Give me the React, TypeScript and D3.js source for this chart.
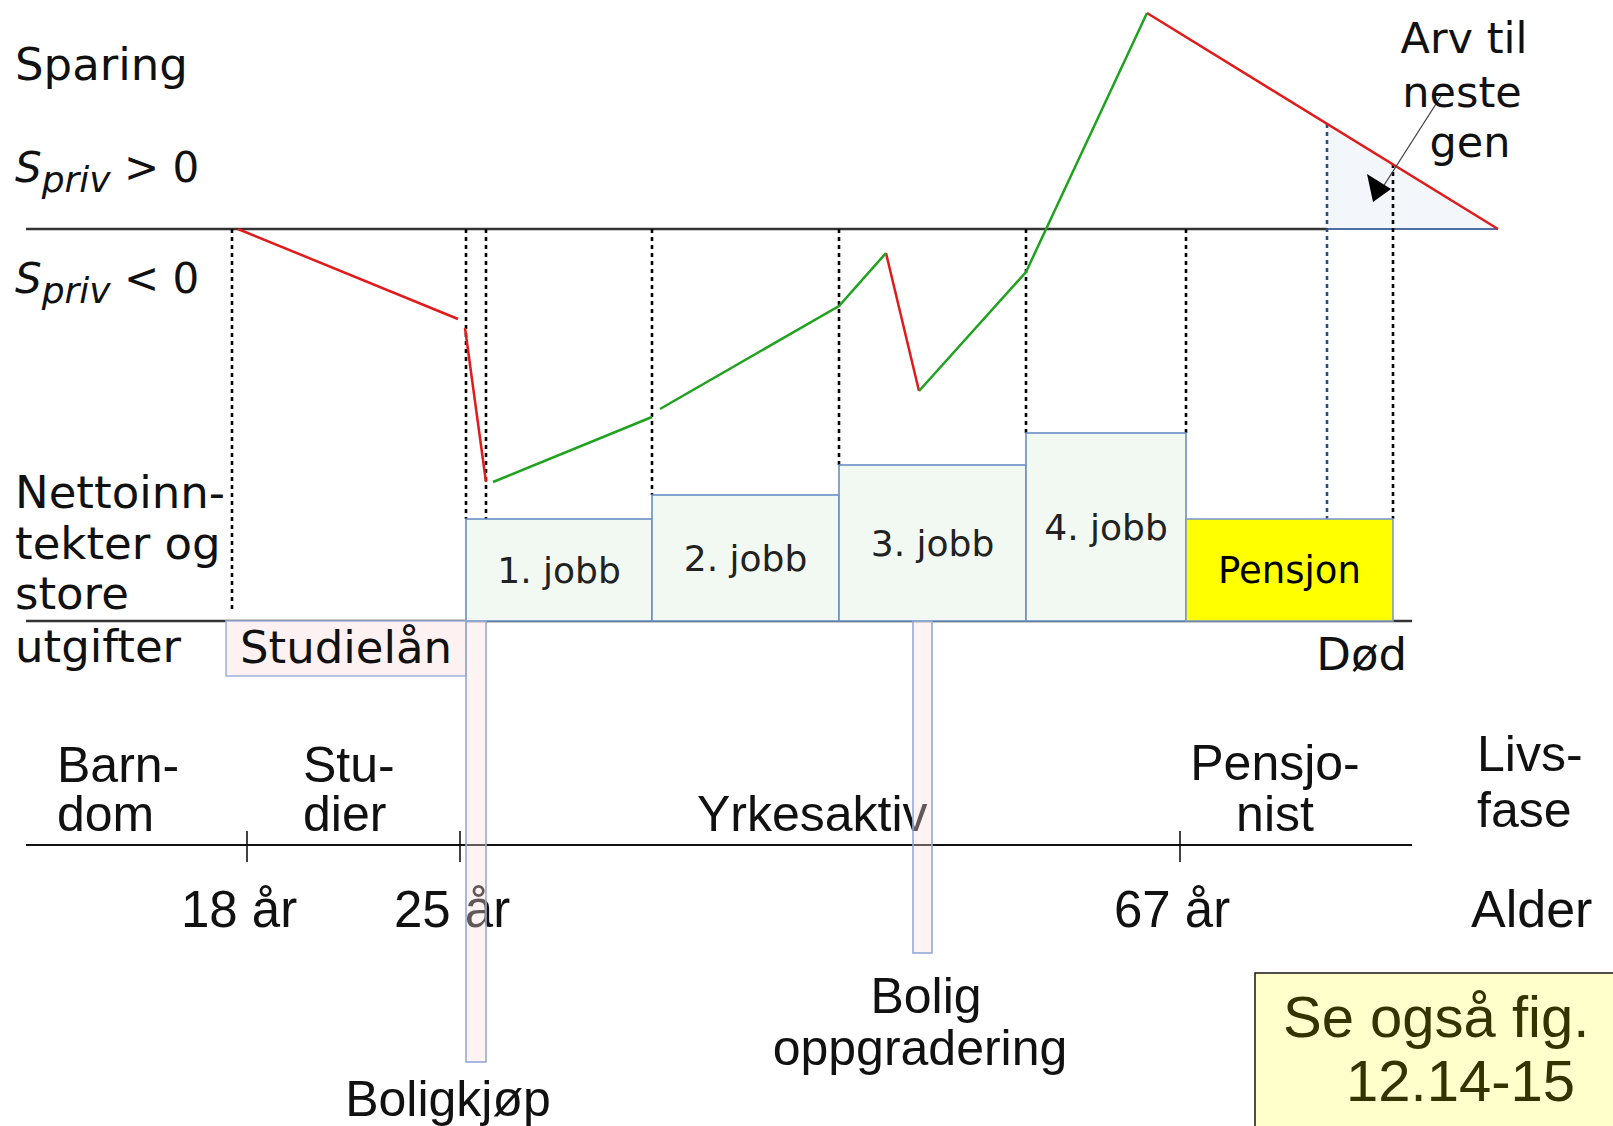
import React from 'react';
import * as d3 from 'd3';

const W = 1613;
const H = 1126;

// savings curve, [position in life, private savings]
const redPieces: number[][][] = [
  [[23.8, 0], [45.8, -9.0]],
  [[46.5, -9.9], [48.6, -25.3]],
  [[88.6, -2.4], [91.9, -16.2]],
  [[114.7, 21.6], [149.8, 0]],
];
const greenPieces: number[][][] = [
  [[49.3, -25.3], [65.2, -18.8]],
  [[66.0, -18.0], [83.9, -7.7], [88.6, -2.4]],
  [[91.9, -16.2], [102.6, -4.3], [114.7, 21.6]],
];

// income blocks
const jobs = ['1. jobb', '2. jobb', '3. jobb', '4. jobb', 'Pensjon'];
const jobStart = [46.6, 65.2, 83.9, 102.6, 118.6];
const jobEnd = [65.2, 83.9, 102.6, 118.6, 139.3];
const jobIncome = [10.2, 12.6, 15.6, 18.8, 10.2];

// big expenses
const expenses = ['Studielån', 'Boligkjøp', 'Bolig oppgradering'];
const expStart = [22.6, 46.6, 91.3];
const expEnd = [46.6, 48.6, 93.2];
const expAmount = [-5.5, -44.1, -33.2];

// inheritance triangle
const inheritance: number[][] = [[132.7, 10.5], [132.7, 0], [149.8, 0]];

// dotted guides: position, savings top, income bottom
const guidePos = [23.2, 46.6, 48.6, 65.2, 83.9, 102.6, 118.6, 132.7, 139.3];
const guideTop = [0, 0, 0, 0, 0, 0, 0, 10.5, 6.5];
const guideBottom = [0, 10.2, 10.2, 12.6, 15.6, 18.8, 18.8, 10.2, 10.2];

const ageLabels = ['18 år', '25 år', '67 år'];
const agePos = [24.7, 46.0, 118.0];

const x = d3.scaleLinear().domain([0, 160]).range([0, 1600]);
const yS = d3.scaleLinear().domain([0, 10]).range([229, 129]);
const yI = d3.scaleLinear().domain([0, 10]).range([621, 521]);

const line = d3
  .line<number[]>()
  .x((d) => x(d[0]))
  .y((d) => yS(d[1]));

const TOP = 'DejaVu Sans, sans-serif';
const BOT = 'Liberation Sans, Arial, sans-serif';

export default function App() {
  const axisY = 845;
  return (
    <svg
      width={W}
      height={H}
      style={{ position: 'absolute', left: 0, top: 0, background: '#fff' }}
    >
      {/* inheritance triangle */}
      <path d={line(inheritance) + 'Z'} fill="#f3f6fb" stroke="none" />
      <line x1={x(132.7)} x2={x(149.8)} y1={yS(0)} y2={yS(0)} stroke="#4f6fa3" strokeWidth={2} />

      {/* zero savings line */}
      <line x1={x(2.6)} x2={x(132.7)} y1={yS(0)} y2={yS(0)} stroke="#333" strokeWidth={2.4} />
      {/* income baseline */}
      <line x1={x(2.6)} x2={x(141.2)} y1={yI(0)} y2={yI(0)} stroke="#333" strokeWidth={2.4} />

      {/* dotted guides */}
      {guidePos.map((p, i) => (
        <line
          key={'g' + i}
          x1={x(p)}
          x2={x(p)}
          y1={yS(guideTop[i])}
          y2={guideBottom[i] === 0 ? yI(0) - 8 : yI(guideBottom[i])}
          stroke={i === 7 ? '#2d4a7a' : '#000'}
          strokeWidth={2.6}
          strokeDasharray="4,4"
        />
      ))}

      {/* savings curve */}
      {redPieces.map((p, i) => (
        <path key={'r' + i} d={line(p) || ''} fill="none" stroke="#e01b1b" strokeWidth={2.5} />
      ))}
      {greenPieces.map((p, i) => (
        <path key={'gr' + i} d={line(p) || ''} fill="none" stroke="#1fa31f" strokeWidth={2.5} />
      ))}

      {/* arrow to inheritance */}
      <line x1={1443} y1={93} x2={1381} y2={190} stroke="#444" strokeWidth={1.3} />
      <polygon points="1373,202 1367,174 1391,189" fill="#000" />

      {/* income boxes */}
      {jobs.map((j, i) => {
        const x0 = x(jobStart[i]);
        const x1 = x(jobEnd[i]);
        const y0 = yI(jobIncome[i]);
        const y1 = yI(0);
        return (
          <g key={'j' + i}>
            <rect
              x={x0}
              y={y0}
              width={x1 - x0}
              height={y1 - y0}
              fill={j === 'Pensjon' ? '#ffff00' : '#f2f9f2'}
              stroke={j === 'Pensjon' ? '#7d9bc9' : '#6a8ec6'}
              strokeWidth={1.6}
            />
            <text
              x={(x0 + x1) / 2}
              y={(y0 + y1) / 2 + 13}
              textAnchor="middle"
              fontFamily={TOP}
              fontSize={j === 'Pensjon' ? 37 : 36}
              fill={j === 'Pensjon' ? '#000' : '#222'}
            >
              {j}
            </text>
          </g>
        );
      })}

      {/* Studielån */}
      <rect
        x={x(expStart[0])}
        y={yI(0)}
        width={x(expEnd[0]) - x(expStart[0])}
        height={yI(expAmount[0]) - yI(0)}
        fill="#fdf1f1"
        stroke="#a3b6dc"
        strokeWidth={1.6}
      />
      <text x={(x(expStart[0]) + x(expEnd[0])) / 2} y={663} textAnchor="middle" fontFamily={TOP} fontSize={45} fill="#111">
        {expenses[0]}
      </text>

      {/* left labels */}
      <g fontFamily={TOP} fontSize={45} fill="#111">
        <text x={15} y={80}>Sparing</text>
        <text x={15} y={182}>
          <tspan fontStyle="italic" fontSize={42}>S</tspan>
          <tspan fontStyle="italic" fontSize={36} dy={10}>priv</tspan>
          <tspan fontSize={42} dy={-10}> &gt; 0</tspan>
        </text>
        <text x={15} y={293}>
          <tspan fontStyle="italic" fontSize={42}>S</tspan>
          <tspan fontStyle="italic" fontSize={36} dy={10}>priv</tspan>
          <tspan fontSize={42} dy={-10}> &lt; 0</tspan>
        </text>
        <text x={15} y={508}>Nettoinn-</text>
        <text x={15} y={559}>tekter og</text>
        <text x={15} y={609}>store</text>
        <text x={15} y={662}>utgifter</text>
        <text x={1407} y={670} textAnchor="end">Død</text>
      </g>
      <g fontFamily={TOP} fontSize={43} fill="#111" textAnchor="middle">
        <text x={1464} y={53}>Arv til</text>
        <text x={1462} y={107}>neste</text>
        <text x={1470} y={157}>gen</text>
      </g>

      {/* life phase axis */}
      <line x1={x(2.6)} x2={x(141.2)} y1={axisY} y2={axisY} stroke="#111" strokeWidth={2.2} />
      {agePos.map((a, i) => (
        <g key={'a' + i}>
          <line x1={x(a)} x2={x(a)} y1={axisY - 14} y2={axisY + 17} stroke="#111" strokeWidth={1.6} />
          <text x={x(a) - 8} y={927} textAnchor="middle" fontFamily={BOT} fontSize={51} fill="#111">
            {ageLabels[i]}
          </text>
        </g>
      ))}
      <g fontFamily={BOT} fontSize={50} fill="#111">
        <text x={57} y={782}>Barn-</text>
        <text x={57} y={831}>dom</text>
        <text x={303} y={782}>Stu-</text>
        <text x={303} y={831}>dier</text>
        <text x={697} y={831}>Yrkesaktiv</text>
        <text x={1275} y={780} textAnchor="middle">Pensjo-</text>
        <text x={1275} y={831} textAnchor="middle">nist</text>
        <text x={1477} y={771}>Livs-</text>
        <text x={1477} y={827}>fase</text>
        <text x={1471} y={927} fontSize={52}>Alder</text>
        <text x={448} y={1116} textAnchor="middle">{expenses[1]}</text>
        <text x={926} y={1013} textAnchor="middle">Bolig</text>
        <text x={920} y={1065} textAnchor="middle">oppgradering</text>
      </g>

      {/* housing bars, drawn over text */}
      {[1, 2].map((i) => (
        <rect
          key={'e' + i}
          x={x(expStart[i])}
          y={yI(0)}
          width={x(expEnd[i]) - x(expStart[i])}
          height={yI(expAmount[i]) - yI(0)}
          fill="#f9dede"
          fillOpacity={0.35}
          stroke="#93a9d8"
          strokeWidth={1.6}
        />
      ))}

      {/* note box */}
      <rect x={1255} y={973} width={W - 1255 + 4} height={H - 973 + 4} fill="#ffffcc" stroke="#222" strokeWidth={1.6} />
      <g fontFamily={BOT} fontSize={58} fill="#333300">
        <text x={1283} y={1037}>Se også fig.</text>
        <text x={1346} y={1101}>12.14-15</text>
      </g>
    </svg>
  );
}
